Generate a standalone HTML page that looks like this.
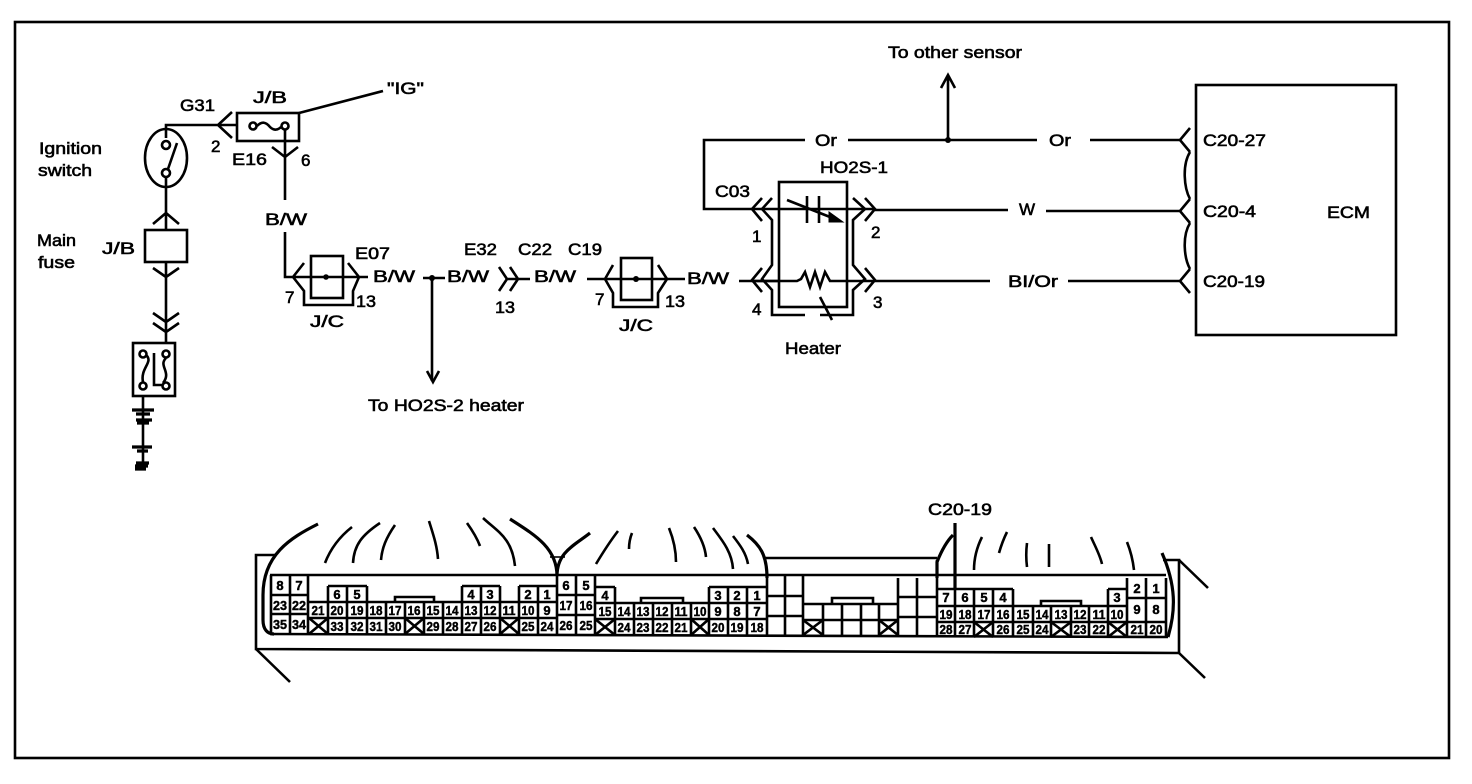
<!DOCTYPE html>
<html><head><meta charset="utf-8"><style>
html,body{margin:0;padding:0;background:#fff}
svg{display:block}
text{font-family:"Liberation Sans",sans-serif;fill:#000}
.l{font-size:17px;stroke:#000;stroke-width:.6}
.c{font-size:13px;font-weight:bold;text-anchor:middle;stroke:#000;stroke-width:.45}
.w{fill:none;stroke:#000;stroke-width:2.6}
.t{fill:none;stroke:#000;stroke-width:1.6}
.b{fill:none;stroke:#000;stroke-width:3.2}
</style></head><body>
<svg width="1472" height="784" viewBox="0 0 1472 784" xmlns="http://www.w3.org/2000/svg">
<rect width="1472" height="784" fill="#fff"/>
<rect x="15" y="22" width="1434" height="736" class="w"/>

<!-- left circuit -->
<g class="w">
<path d="M166 138V125H237M232 112L218 125L232 138"/>
<rect x="237" y="113" width="62" height="28"/>
<path d="M299 113L383 91"/>
<circle cx="253" cy="126" r="3.5"/><circle cx="285" cy="126" r="3.5"/>
<path d="M257 126C262 121 266 122 270 127C274 131 278 130 281 127"/>
<path d="M285 130V200M272 147L285 157L298 147"/>
<path d="M285 232V277H368M293 277L304 263M348 263L359 277M293 277L304 291V305H353V291L359 277"/>
<rect x="311" y="256" width="32" height="42"/>
<ellipse cx="166" cy="158" rx="21" ry="29"/>
<circle cx="166" cy="145" r="4"/><circle cx="166" cy="173" r="4"/>
<path d="M168 169L177 143M166 177V230M153 224L166 213L179 224"/>
<rect x="145" y="230" width="42" height="32"/>
<path d="M166 262V343M153 268L166 277L179 268M153 313L166 322L179 313M153 323L166 332L179 323"/>
<rect x="133" y="343" width="42" height="53"/>
<circle cx="143" cy="354" r="3.5"/><circle cx="143" cy="386" r="3.5"/>
<circle cx="166" cy="354" r="3.5"/><circle cx="166" cy="386" r="3.5"/>
<path d="M146 355C154 362 140 368 143 382M166 358C158 366 172 372 163 383M154 353V385H162"/>
<path d="M143 396V462"/>
</g>
<g class="b">
<path d="M132 410H154M136 414H150M136 420H152M137 423H149M132 447H152M137 451H148"/>
<path d="M136 463H149M135 466H148M135 469H146"/>
</g>
<circle cx="326" cy="277" r="2.8"/>

<!-- middle -->
<g class="w">
<path d="M423 278H445M432 278V381"/>
<path d="M427 371L433 382L439 371"/>
<path d="M499 267L507 279L499 291M510 267L518 279L510 291M507 279H530"/>
<path d="M587 279H685M605 279L613 265M658 265L667 279M605 279L613 293V307H658V293L667 279"/>
<rect x="621" y="258" width="31" height="42"/>
<path d="M739 281H779"/>
</g>
<circle cx="432" cy="278" r="3"/><circle cx="636" cy="279" r="3"/>

<!-- sensor -->
<g class="w">
<path d="M805 140H704V209H875"/>
<path d="M848 140H1037M1090 140H1180M948 140V76M941 88L948 75L955 88"/>
<rect x="779" y="182" width="68" height="125"/>
<path d="M762 198L752 209L762 221M772 198L762 209L772 220V265L762 279L772 290V315H805M762 268L752 280L762 292"/>
<path d="M820 315H853V290L865 279L853 265V220L865 209L853 198M865 198L875 209L865 221M865 268L875 280L865 292"/>
<path d="M752 281H797L801 279L805 272L810 287L815 272L820 287L825 272L830 281H990M1068 281H1180"/>
<path d="M875 210H1008M1046 211H1180"/>
<path d="M807 196V223M819 196V223M787 200L830 217"/>
<path d="M820 297L832 320"/>
<rect x="1196" y="85" width="200" height="250"/>
<path d="M1190 128L1180 140L1190 152M1190 199L1180 211L1190 223M1190 269L1180 281L1190 293"/>
<path d="M1190 152C1182 165 1184 188 1190 199M1190 223C1182 236 1184 258 1190 269"/>
</g>
<path d="M843 222L829 212L829 222Z" fill="#000" stroke="#000"/>
<circle cx="948" cy="140" r="3"/>

<!-- labels -->
<g class="l">
<text x="888" y="58" textLength="134" lengthAdjust="spacingAndGlyphs">To other sensor</text>
<text x="39" y="154" textLength="63" lengthAdjust="spacingAndGlyphs">Ignition</text>
<text x="38" y="176" textLength="54" lengthAdjust="spacingAndGlyphs">switch</text>
<text x="37" y="246" textLength="39" lengthAdjust="spacingAndGlyphs">Main</text>
<text x="38" y="268" textLength="37" lengthAdjust="spacingAndGlyphs">fuse</text>
<text x="102" y="254" textLength="33" lengthAdjust="spacingAndGlyphs">J/B</text>
<text x="180" y="111" textLength="35" lengthAdjust="spacingAndGlyphs">G31</text>
<text x="253" y="103" textLength="34" lengthAdjust="spacingAndGlyphs">J/B</text>
<text x="387" y="94" textLength="37" lengthAdjust="spacingAndGlyphs">"IG"</text>
<text x="211" y="152">2</text>
<text x="232" y="165" textLength="35" lengthAdjust="spacingAndGlyphs">E16</text>
<text x="301" y="166">6</text>
<text x="265" y="225" textLength="42" lengthAdjust="spacingAndGlyphs">B/W</text>
<text x="355" y="259" textLength="35" lengthAdjust="spacingAndGlyphs">E07</text>
<text x="373" y="282" textLength="42" lengthAdjust="spacingAndGlyphs">B/W</text>
<text x="285" y="303">7</text>
<text x="356" y="307" textLength="20" lengthAdjust="spacingAndGlyphs">13</text>
<text x="310" y="327" textLength="34" lengthAdjust="spacingAndGlyphs">J/C</text>
<text x="368" y="411" textLength="156" lengthAdjust="spacingAndGlyphs">To HO2S-2 heater</text>
<text x="464" y="255" textLength="33" lengthAdjust="spacingAndGlyphs">E32</text>
<text x="447" y="282" textLength="42" lengthAdjust="spacingAndGlyphs">B/W</text>
<text x="518" y="255" textLength="34" lengthAdjust="spacingAndGlyphs">C22</text>
<text x="534" y="282" textLength="42" lengthAdjust="spacingAndGlyphs">B/W</text>
<text x="568" y="255" textLength="34" lengthAdjust="spacingAndGlyphs">C19</text>
<text x="495" y="313" textLength="20" lengthAdjust="spacingAndGlyphs">13</text>
<text x="595" y="305">7</text>
<text x="665" y="307" textLength="20" lengthAdjust="spacingAndGlyphs">13</text>
<text x="619" y="331" textLength="34" lengthAdjust="spacingAndGlyphs">J/C</text>
<text x="687" y="284" textLength="42" lengthAdjust="spacingAndGlyphs">B/W</text>
<text x="715" y="197" textLength="35" lengthAdjust="spacingAndGlyphs">C03</text>
<text x="752" y="242">1</text>
<text x="871" y="238">2</text>
<text x="752" y="315">4</text>
<text x="873" y="308">3</text>
<text x="820" y="173" textLength="68" lengthAdjust="spacingAndGlyphs">HO2S-1</text>
<text x="785" y="354" textLength="56" lengthAdjust="spacingAndGlyphs">Heater</text>
<text x="815" y="146" textLength="22" lengthAdjust="spacingAndGlyphs">Or</text>
<text x="1049" y="146" textLength="22" lengthAdjust="spacingAndGlyphs">Or</text>
<text x="1019" y="215">W</text>
<text x="1008" y="287" textLength="50" lengthAdjust="spacingAndGlyphs">BI/Or</text>
<text x="1203" y="146" textLength="63" lengthAdjust="spacingAndGlyphs">C20-27</text>
<text x="1203" y="217" textLength="53" lengthAdjust="spacingAndGlyphs">C20-4</text>
<text x="1203" y="287" textLength="62" lengthAdjust="spacingAndGlyphs">C20-19</text>
<text x="1327" y="218" textLength="43" lengthAdjust="spacingAndGlyphs">ECM</text>
<text x="928" y="515" textLength="64" lengthAdjust="spacingAndGlyphs">C20-19</text>
</g>

<!-- connector body -->
<g class="w">
<path d="M276 555H256V649L1179 653V560H1163"/>
<path d="M256 649L290 682M1179 560L1208 588M1179 653L1205 678"/>
<path d="M270 575H1166M270 634L1168 637"/>
<path d="M765 558H937"/>
</g>
<g class="b">
<path d="M318 524C290 538 263 555 263 595V620C263 630 268 634 274 634"/>
<path d="M510 519C535 535 557 548 557 576C557 552 575 545 590 533"/>
<path d="M747 535C760 545 767 555 767 578"/>
<path d="M937 578V562C941 552 946 542 953 535"/>
<path d="M955 523V590"/>
<path d="M1162 553C1176 585 1176 610 1168 637"/>
</g>
<path d="M550 557H565" class="t"/>
<g class="w">
<path d="M352 527C338 538 330 550 325 563M380 523C362 535 354 545 353 563M395 525C386 538 382 548 381 560M429 521C433 534 437 545 438 559M467 523C472 530 477 538 480 546M483 518C498 532 512 538 515 566"/>
<path d="M618 531C608 544 602 554 596 564M632 533C630 538 629 544 629 549M669 528C673 538 676 550 676 562M694 527C700 536 705 546 706 557M713 528C722 540 732 552 733 569M733 536C740 545 746 553 748 564"/>
<path d="M982 537C977 547 974 558 974 570M1007 532C1003 540 1001 546 999 553M1027 543C1026 551 1026 559 1027 567M1049 544V567M1091 537C1095 546 1100 555 1102 564M1127 542C1131 552 1133 561 1134 570"/>
</g>

<!-- cell grid -->
<g class="w">
<!-- left -->
<path d="M271 575V634M290 575V634M308 575V634M271 595H308M271 614H308"/>
<path d="M308 602H557M309 618H557M328 586V634M347 586V634M367 586V634M386 602V634M405 602V634M424 602V634M443 602V634M462 586V634M481 586V634M500 586V634M519 586V634M538 586V634M557 576V634"/>
<path d="M328 586H367M462 586H500M519 586H557"/>
<path d="M395 602V597H434V602"/>
<path d="M309 634L328 618M309 618L328 634M405 634L424 618M405 618L424 634M500 634L519 618M500 618L519 634"/>
<!-- center left -->
<path d="M576 576V634M595 576V635M557 595H595M557 615H595"/>
<path d="M595 603H767M595 619H767M615 587V635M634 603V635M653 603V635M672 603V635M691 603V635M709 587V635M728 587V635M747 587V635M767 575V635"/>
<path d="M595 587H615M709 587H767"/>
<path d="M641 603V598H683V603"/>
<path d="M595 635L615 619M595 619L615 635M691 635L709 619M691 619L709 635"/>
<!-- center blank -->
<path d="M785 575V635M803 575V635M767 596H803M767 616H803"/>
<path d="M803 604H898M803 620H898M823 604V635M842 604V635M861 604V635M879 604V635M898 578V636"/>
<path d="M832 604V598H873V604"/>
<path d="M803 635L823 620M803 620L823 635M879 635L898 620M879 620L898 635"/>
<path d="M917 578V636M937 560V636M898 597H937M898 617H937"/>
<!-- right -->
<path d="M937 606H1127M937 622H1127M955 589V637M974 589V637M993 589V637M1013 589V637M1033 606V637M1051 606V637M1071 606V637M1089 606V637M1108 589V637M1127 578V637"/>
<path d="M937 589H1013M1108 589H1127"/>
<path d="M1041 606V601H1081V606"/>
<path d="M1146 578V637M1166 578V637M1127 598H1166M1127 622H1166"/>
<path d="M974 637L993 622M974 622L993 637M1051 637L1071 622M1051 622L1071 637M1108 637L1127 622M1108 622L1127 637"/>
</g>

<!-- cell numbers -->
<g class="c">
<text x="280" y="590">8</text><text x="299" y="590">7</text>
<text x="280" y="610" textLength="14" lengthAdjust="spacingAndGlyphs">23</text><text x="299" y="610" textLength="14" lengthAdjust="spacingAndGlyphs">22</text>
<text x="280" y="629" textLength="14" lengthAdjust="spacingAndGlyphs">35</text><text x="299" y="629" textLength="14" lengthAdjust="spacingAndGlyphs">34</text>
<text x="337" y="599">6</text><text x="357" y="599">5</text>
<text x="471" y="599">4</text><text x="490" y="599">3</text>
<text x="528" y="599">2</text><text x="547" y="599">1</text>
<text x="318" y="615" textLength="13" lengthAdjust="spacingAndGlyphs">21</text><text x="337" y="615" textLength="13" lengthAdjust="spacingAndGlyphs">20</text><text x="357" y="615" textLength="13" lengthAdjust="spacingAndGlyphs">19</text><text x="376" y="615" textLength="13" lengthAdjust="spacingAndGlyphs">18</text><text x="395" y="615" textLength="13" lengthAdjust="spacingAndGlyphs">17</text><text x="414" y="615" textLength="13" lengthAdjust="spacingAndGlyphs">16</text><text x="433" y="615" textLength="13" lengthAdjust="spacingAndGlyphs">15</text><text x="452" y="615" textLength="13" lengthAdjust="spacingAndGlyphs">14</text><text x="471" y="615" textLength="13" lengthAdjust="spacingAndGlyphs">13</text><text x="490" y="615" textLength="13" lengthAdjust="spacingAndGlyphs">12</text><text x="509" y="615" textLength="13" lengthAdjust="spacingAndGlyphs">11</text><text x="528" y="615" textLength="13" lengthAdjust="spacingAndGlyphs">10</text><text x="547" y="615">9</text>
<text x="337" y="631" textLength="13" lengthAdjust="spacingAndGlyphs">33</text><text x="357" y="631" textLength="13" lengthAdjust="spacingAndGlyphs">32</text><text x="376" y="631" textLength="13" lengthAdjust="spacingAndGlyphs">31</text><text x="395" y="631" textLength="13" lengthAdjust="spacingAndGlyphs">30</text><text x="433" y="631" textLength="13" lengthAdjust="spacingAndGlyphs">29</text><text x="452" y="631" textLength="13" lengthAdjust="spacingAndGlyphs">28</text><text x="471" y="631" textLength="13" lengthAdjust="spacingAndGlyphs">27</text><text x="490" y="631" textLength="13" lengthAdjust="spacingAndGlyphs">26</text><text x="528" y="631" textLength="13" lengthAdjust="spacingAndGlyphs">25</text><text x="547" y="631" textLength="13" lengthAdjust="spacingAndGlyphs">24</text>

<text x="566" y="590">6</text><text x="586" y="590">5</text>
<text x="566" y="610" textLength="13" lengthAdjust="spacingAndGlyphs">17</text><text x="586" y="610" textLength="13" lengthAdjust="spacingAndGlyphs">16</text>
<text x="566" y="630" textLength="13" lengthAdjust="spacingAndGlyphs">26</text><text x="586" y="630" textLength="13" lengthAdjust="spacingAndGlyphs">25</text>
<text x="605" y="600">4</text><text x="718" y="600">3</text><text x="737" y="600">2</text><text x="757" y="600">1</text>
<text x="605" y="616" textLength="13" lengthAdjust="spacingAndGlyphs">15</text><text x="624" y="616" textLength="13" lengthAdjust="spacingAndGlyphs">14</text><text x="643" y="616" textLength="13" lengthAdjust="spacingAndGlyphs">13</text><text x="662" y="616" textLength="13" lengthAdjust="spacingAndGlyphs">12</text><text x="681" y="616" textLength="13" lengthAdjust="spacingAndGlyphs">11</text><text x="700" y="616" textLength="13" lengthAdjust="spacingAndGlyphs">10</text><text x="718" y="616">9</text><text x="737" y="616">8</text><text x="757" y="616">7</text>
<text x="624" y="632" textLength="13" lengthAdjust="spacingAndGlyphs">24</text><text x="643" y="632" textLength="13" lengthAdjust="spacingAndGlyphs">23</text><text x="662" y="632" textLength="13" lengthAdjust="spacingAndGlyphs">22</text><text x="681" y="632" textLength="13" lengthAdjust="spacingAndGlyphs">21</text><text x="718" y="632" textLength="13" lengthAdjust="spacingAndGlyphs">20</text><text x="737" y="632" textLength="13" lengthAdjust="spacingAndGlyphs">19</text><text x="757" y="632" textLength="13" lengthAdjust="spacingAndGlyphs">18</text>

<text x="946" y="602">7</text><text x="965" y="602">6</text><text x="984" y="602">5</text><text x="1003" y="602">4</text><text x="1117" y="602">3</text>
<text x="946" y="619" textLength="13" lengthAdjust="spacingAndGlyphs">19</text><text x="965" y="619" textLength="13" lengthAdjust="spacingAndGlyphs">18</text><text x="984" y="619" textLength="13" lengthAdjust="spacingAndGlyphs">17</text><text x="1003" y="619" textLength="13" lengthAdjust="spacingAndGlyphs">16</text><text x="1023" y="619" textLength="13" lengthAdjust="spacingAndGlyphs">15</text><text x="1042" y="619" textLength="13" lengthAdjust="spacingAndGlyphs">14</text><text x="1061" y="619" textLength="13" lengthAdjust="spacingAndGlyphs">13</text><text x="1080" y="619" textLength="13" lengthAdjust="spacingAndGlyphs">12</text><text x="1099" y="619" textLength="13" lengthAdjust="spacingAndGlyphs">11</text><text x="1117" y="619" textLength="13" lengthAdjust="spacingAndGlyphs">10</text>
<text x="946" y="634" textLength="13" lengthAdjust="spacingAndGlyphs">28</text><text x="965" y="634" textLength="13" lengthAdjust="spacingAndGlyphs">27</text><text x="1003" y="634" textLength="13" lengthAdjust="spacingAndGlyphs">26</text><text x="1023" y="634" textLength="13" lengthAdjust="spacingAndGlyphs">25</text><text x="1042" y="634" textLength="13" lengthAdjust="spacingAndGlyphs">24</text><text x="1080" y="634" textLength="13" lengthAdjust="spacingAndGlyphs">23</text><text x="1099" y="634" textLength="13" lengthAdjust="spacingAndGlyphs">22</text>
<text x="1137" y="593">2</text><text x="1156" y="593">1</text>
<text x="1137" y="614">9</text><text x="1156" y="614">8</text>
<text x="1137" y="634" textLength="13" lengthAdjust="spacingAndGlyphs">21</text><text x="1156" y="634" textLength="13" lengthAdjust="spacingAndGlyphs">20</text>
</g>
</svg>
</body></html>
